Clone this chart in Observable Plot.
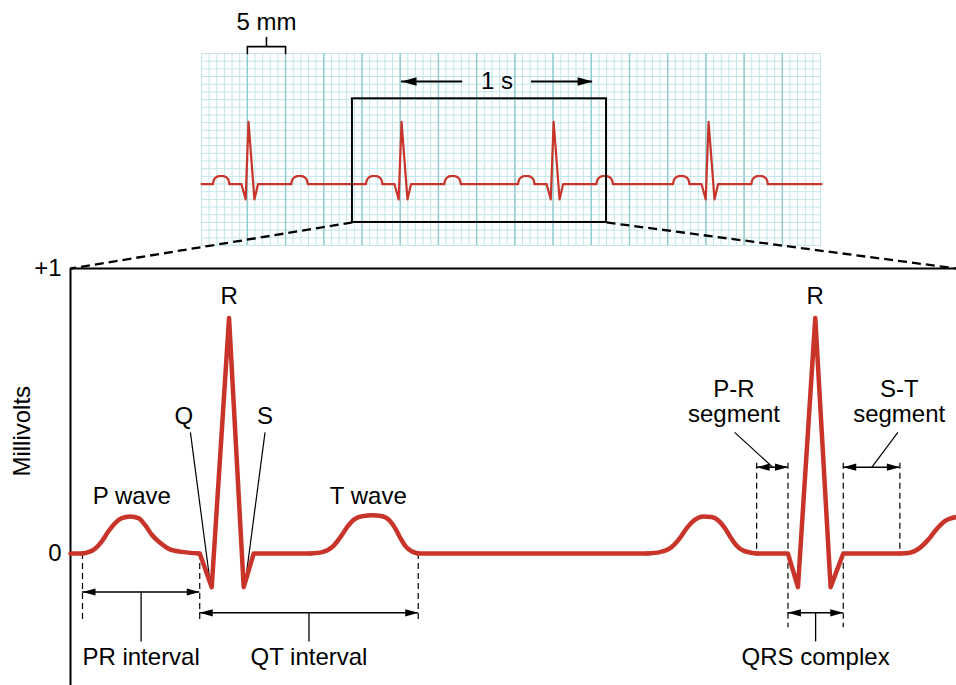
<!DOCTYPE html>
<html>
<head>
<meta charset="utf-8">
<script src="https://cdn.jsdelivr.net/npm/d3@7"></script>
<script src="https://cdn.jsdelivr.net/npm/@observablehq/plot@0.6"></script>
<style>
  html, body { margin: 0; padding: 0; background: #fff; }
  #chart { position: relative; width: 956px; height: 685px; overflow: hidden; }
  #chart svg { position: absolute; left: 0; top: 0; }
</style>
</head>
<body>
<div id="chart"></div>
<script>
// ================= DATA =================
// ---- Top ECG strip: time in seconds, amplitude in mV ----
const stripTimeDomain = [0, 3.245];
const stripMvDomain = [-0.8, 1.7];
const stripBeats = [0.246, 1.047, 1.843, 2.654];            // R-peak times (s)
const stripPBump = [[-0.1865,0],[-0.1822,0.045],[-0.1756,0.075],[-0.1648,0.095],[-0.1539,0.103],[-0.143,0.105],[-0.1321,0.103],[-0.1212,0.095],[-0.1104,0.075],[-0.1038,0.045],[-0.0995,0]];
const stripQrs   = [[-0.037,0],[-0.015,-0.2],[0,0.81],[0.031,-0.2],[0.05,0]];
const stripTBump = [[0.2235,0],[0.2278,0.045],[0.2344,0.075],[0.2452,0.095],[0.2561,0.103],[0.267,0.105],[0.2779,0.103],[0.2888,0.095],[0.2996,0.075],[0.3062,0.045],[0.3105,0]];
const smallBoxSec = 0.04, largeBoxSec = 0.2, smallBoxMv = 0.1, firstLargeLine = 0.24;
const zoomWindow = {start: 0.79, end: 2.12, low: -0.5, high: 1.11};
const oneSecond = {start: 1.047, end: 2.047, y: 1.335, label: "1 s"};
const fiveMm = {start: 0.24, end: 0.44, label: "5 mm"};

// ---- Main enlarged trace: time in ms, amplitude in mV ----
const mainTimeDomain = [0, 1330];
const mainMvDomain = [-0.463, 1];
const yTicks = [0, 1];
const yTickLabels = ["0", "+1"];
const pWaveA = [[18,0],[35,0.014],[47,0.043],[57,0.078],[67,0.107],[77,0.124],[90,0.13],[102,0.124],[112,0.1],[122,0.066],[135,0.037],[150,0.014],[170,0.005],[192,0]];
const qrsA   = [[194,0],[212,-0.118],[238,0.826],[260,-0.118],[275,0]];
const tWaveA = [[360,0],[378,0.005],[394,0.025],[406,0.06],[416,0.095],[426,0.12],[440,0.132],[453,0.134],[466,0.132],[478,0.118],[487,0.09],[495,0.055],[503,0.025],[512,0.008],[522,0]];
const pWaveB = [[865,0],[885,0.005],[902,0.022],[915,0.055],[926,0.092],[937,0.118],[950,0.13],[962,0.128],[973,0.115],[982,0.09],[990,0.06],[999,0.03],[1010,0.01],[1030,0]];
const qrsB   = [[1077,0],[1092,-0.118],[1118,0.826],[1141,-0.118],[1160,0]];
const tWaveB = [[1245,0],[1260,0.003],[1275,0.02],[1287,0.047],[1300,0.085],[1312,0.113],[1330,0.128]];

// annotations of the main trace
const waveLabelText = ["R", "R", "Q", "S", "P wave", "T wave", "P-R", "segment", "S-T", "segment"];
const waveLabelT    = [238, 1118, 170, 292, 92, 447, 996, 996, 1244, 1244];
const waveLabelMv   = [0.903, 0.903, 0.483, 0.483, 0.2, 0.2, 0.575, 0.488, 0.575, 0.488];
const leaderFrom = [[180, 0.425], [292, 0.425], [997, 0.425], [1242, 0.425]];
const leaderTo   = [[210, -0.108], [262, -0.108], [1054, 0.303], [1203, 0.303]];
const spanName  = ["PR interval", "QT interval", "QRS complex", "P-R segment", "S-T segment"];
const spanStart = [18, 194, 1077, 1030, 1160];
const spanEnd   = [194, 522, 1160, 1077, 1245];
const spanMv    = [-0.135, -0.208, -0.208, 0.303, 0.303];
const spanLabelled = [true, true, true, false, false];
const spanTickEnd = -0.31, spanLabelMv = -0.364;
const guideT   = [18, 194, 522, 1030, 1077, 1160, 1245];
const guideTop = [0, 0, 0, 0.317, 0.317, 0.317, 0.317];
const guideBot = [-0.243, -0.243, -0.243, 0, -0.26, -0.26, 0];

// ================= LAYOUT / STYLE =================
const W = 956, H = 685;
const STRIP = {left: 201, right: 821, top: 53, bottom: 245};
const MAIN = {left: 70, right: 956, top: 268, bottom: 685};
const FONT = "'Liberation Sans', Arial, Helvetica, sans-serif";
const FS = 24;
const RED = "#c9342a";
const MINOR = "#c2e5e8", MAJOR = "#8fcad0";

const stripX = d3.scaleLinear(stripTimeDomain, [STRIP.left, STRIP.right]);
const stripY = d3.scaleLinear(stripMvDomain, [STRIP.bottom, STRIP.top]);
const mainX = d3.scaleLinear(mainTimeDomain, [MAIN.left, MAIN.right]);
const mainY = d3.scaleLinear(mainMvDomain, [MAIN.bottom, MAIN.top]);

// ================= HELPERS =================
function buildTrace(start, pieces, end) {
  const smooth = [], straight = [];
  let run = [start], id = 0;
  const emit = (pts, into) => { into.push(...pts.map(([t, mv]) => ({t, mv, id}))); id++; };
  for (const {kind, pts} of pieces) {
    if (kind === "sharp") run.push(...pts);
    else { run.push(pts[0]); emit(run, straight); emit(pts, smooth); run = [pts[pts.length - 1]]; }
  }
  if (end) run.push(end);
  if (run.length > 1) emit(run, straight);
  return {smooth, straight};
}
const head = (len, half, dir) => ({
  draw(ctx) { ctx.moveTo(0, 0); ctx.lineTo(-dir * len, -half); ctx.lineTo(-dir * len, half); ctx.closePath(); }
});
function arrowMarks(spans, len, half, strokeWidth) {
  return [
    Plot.ruleY(spans, {y: "y", x1: "x1", x2: "x2", stroke: "black", strokeWidth}),
    Plot.dot(spans.filter(d => d.left), {x: "start", y: "y", r: 1, symbol: head(len, half, -1), fill: "black", stroke: "none"}),
    Plot.dot(spans.filter(d => d.right), {x: "end", y: "y", r: 1, symbol: head(len, half, 1), fill: "black", stroke: "none"})
  ];
}
const lineStyle = (w) => ({stroke: RED, strokeWidth: w, strokeLinecap: "round", strokeLinejoin: "round"});

// ================= MAIN CHART =================
const mainTrace = buildTrace([0, 0], [
  {kind: "smooth", pts: pWaveA}, {kind: "sharp", pts: qrsA}, {kind: "smooth", pts: tWaveA},
  {kind: "smooth", pts: pWaveB}, {kind: "sharp", pts: qrsB}, {kind: "smooth", pts: tWaveB}
], null);

const spans = spanName.map((name, i) => ({name, start: spanStart[i], end: spanEnd[i], y: spanMv[i],
  x1: spanStart[i], x2: spanEnd[i], left: true, right: true, labelled: spanLabelled[i],
  mid: (spanStart[i] + spanEnd[i]) / 2}));
const labelledSpans = spans.filter(d => d.labelled);
const guides = guideT.map((t, i) => ({t, top: guideTop[i], bot: guideBot[i]}));
const waveLabels = waveLabelText.map((text, i) => ({text, t: waveLabelT[i], mv: waveLabelMv[i]}));
const leaders = leaderFrom.map((f, i) => ({x1: f[0], y1: f[1], x2: leaderTo[i][0], y2: leaderTo[i][1]}));

const mainPlot = Plot.plot({
  width: W, height: H,
  marginLeft: MAIN.left, marginRight: W - MAIN.right, marginTop: MAIN.top, marginBottom: H - MAIN.bottom,
  x: {domain: mainTimeDomain, axis: null},
  y: {domain: mainMvDomain},
  style: {fontFamily: FONT, fontSize: FS + "px", background: "white", overflow: "visible", color: "black"},
  marks: [
    Plot.axisY(yTicks, {tickSize: 0, tickPadding: 9, tickFormat: d => yTickLabels[yTicks.indexOf(d)], fontSize: FS, label: null}),
    Plot.text(["Millivolts"], {y: [0.27], frameAnchor: "left", dx: -48, rotate: -90, fontSize: FS}),
    Plot.ruleY([mainMvDomain[1]], {stroke: "black", strokeWidth: 2}),
    Plot.ruleX([mainTimeDomain[0]], {stroke: "black", strokeWidth: 2}),
    Plot.ruleX(guides, {x: "t", y1: "top", y2: "bot", stroke: "black", strokeWidth: 1.2, strokeDasharray: "6,4"}),
    ...arrowMarks(spans, 13, 3.6, 1.5),
    Plot.ruleX(labelledSpans, {x: "mid", y1: "y", y2: spanTickEnd, stroke: "black", strokeWidth: 1.3}),
    Plot.text(labelledSpans, {x: "mid", y: spanLabelMv, text: "name", fontSize: FS}),
    Plot.link(leaders, {x1: "x1", y1: "y1", x2: "x2", y2: "y2", stroke: "black", strokeWidth: 1.2}),
    Plot.text(waveLabels, {x: "t", y: "mv", text: "text", fontSize: FS}),
    Plot.line(mainTrace.straight, {x: "t", y: "mv", z: "id", ...lineStyle(4.5)}),
    Plot.line(mainTrace.smooth, {x: "t", y: "mv", z: "id", curve: "monotone-x", ...lineStyle(4.5)})
  ]
});

// ================= TOP STRIP =================
const shift = (pts, r) => pts.map(([t, v]) => [r + t, v]);
const stripPieces = stripBeats.flatMap(r => [
  {kind: "smooth", pts: shift(stripPBump, r)},
  {kind: "sharp", pts: shift(stripQrs, r)},
  {kind: "smooth", pts: shift(stripTBump, r)}
]);
const stripTrace = buildTrace([stripTimeDomain[0], 0], stripPieces, [stripTimeDomain[1], 0]);

const minorT = d3.range(stripTimeDomain[0], stripTimeDomain[1] + 1e-6, smallBoxSec);
const majorT = d3.range(firstLargeLine, stripTimeDomain[1] - 0.1, largeBoxSec);
const minorMv = d3.range(stripMvDomain[0], stripMvDomain[1] + 1e-6, smallBoxMv);

// zoom connectors: box corners -> corners of the main frame
const connectors = [
  {x1: zoomWindow.start, y1: zoomWindow.low, x2: stripX.invert(mainX(mainTimeDomain[0])), y2: stripY.invert(mainY(mainMvDomain[1]))},
  {x1: zoomWindow.end, y1: zoomWindow.low, x2: stripX.invert(mainX(mainTimeDomain[1])), y2: stripY.invert(mainY(mainMvDomain[1]))}
];
const bracketTop = stripMvDomain[1] + 0.09, bracketTick = stripMvDomain[1] + 0.21;
const bracket = [[fiveMm.start, stripMvDomain[1]], [fiveMm.start, bracketTop], [fiveMm.end, bracketTop], [fiveMm.end, stripMvDomain[1]]];
const fiveMid = (fiveMm.start + fiveMm.end) / 2;
const secMid = (oneSecond.start + oneSecond.end) / 2;
const secGap = 0.18;
const secArrows = [
  {x1: oneSecond.start, x2: secMid - secGap, start: oneSecond.start, y: oneSecond.y, left: true},
  {x1: secMid + secGap, x2: oneSecond.end, end: oneSecond.end, y: oneSecond.y, right: true}
];

const stripPlot = Plot.plot({
  width: W, height: H,
  marginLeft: STRIP.left, marginRight: W - STRIP.right, marginTop: STRIP.top, marginBottom: H - STRIP.bottom,
  x: {domain: stripTimeDomain, axis: null},
  y: {domain: stripMvDomain, axis: null},
  style: {fontFamily: FONT, fontSize: FS + "px", background: "transparent", overflow: "visible", color: "black"},
  marks: [
    Plot.ruleX(minorT, {stroke: MINOR, strokeWidth: 1}),
    Plot.ruleY(minorMv, {stroke: MINOR, strokeWidth: 1}),
    Plot.ruleX(majorT, {stroke: MAJOR, strokeWidth: 1.4}),
    Plot.line(stripTrace.straight, {x: "t", y: "mv", z: "id", ...lineStyle(2.2)}),
    Plot.line(stripTrace.smooth, {x: "t", y: "mv", z: "id", curve: "monotone-x", ...lineStyle(2.2)}),
    Plot.rect([zoomWindow], {x1: "start", x2: "end", y1: "low", y2: "high", fill: "none", stroke: "black", strokeWidth: 2}),
    Plot.link(connectors, {x1: "x1", y1: "y1", x2: "x2", y2: "y2", stroke: "black", strokeWidth: 2.3, strokeDasharray: "9,5"}),
    Plot.line(bracket, {stroke: "black", strokeWidth: 1.6}),
    Plot.ruleX([fiveMid], {y1: bracketTop, y2: bracketTick, stroke: "black", strokeWidth: 1.6}),
    Plot.text([fiveMm.label], {x: [fiveMid], y: [stripMvDomain[1] + 0.41], fontSize: FS}),
    ...arrowMarks(secArrows, 15, 4.2, 2),
    Plot.text([oneSecond.label], {x: [secMid], y: [oneSecond.y], fontSize: FS})
  ]
});

const chart = document.getElementById("chart");
chart.appendChild(mainPlot);
chart.appendChild(stripPlot);
</script>
</body>
</html>
